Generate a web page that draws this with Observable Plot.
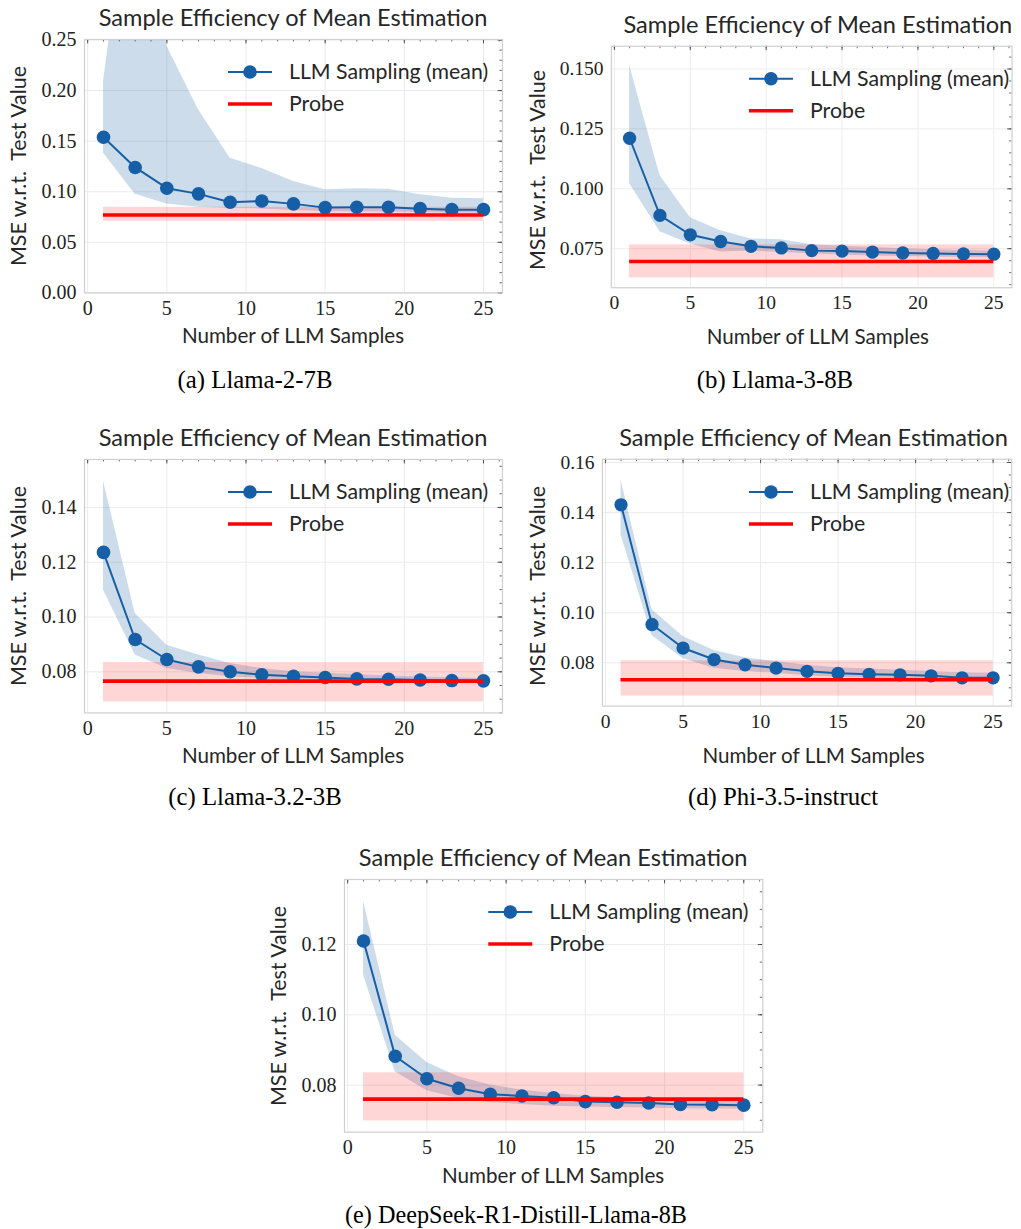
<!DOCTYPE html>
<html><head><meta charset="utf-8">
<script src="https://cdn.jsdelivr.net/npm/d3@7"></script>
<script src="https://cdn.jsdelivr.net/npm/@observablehq/plot@0.6"></script>
<style>
html,body{margin:0;padding:0;background:#fff;overflow:hidden;}
#root{position:relative;width:1021px;height:1229px;overflow:hidden;background:#fff;}
.t{position:absolute;white-space:pre;color:#262626;line-height:1;}
.c{transform:translate(-50%,-50%);}
.l{transform:translate(0,-50%);}
.r{transform:translate(-50%,-50%) rotate(-90deg);}
.sans{font-family:Lato,"Open Sans",sans-serif;}
.serif{font-family:"Liberation Serif","Times New Roman",serif;color:#000;}
.plotbox{position:absolute;}
.plotbox svg{overflow:visible;}
.plotbox svg text{font-family:"Liberation Serif","Times New Roman",serif !important;font-size:20px !important;fill:#222;}
</style></head><body><div id="root"></div>
<script>
// ---------------- data ----------------
const samples = [1, 3, 5, 7, 9, 11, 13, 15, 17, 19, 21, 23, 25];
const xTicks = [0, 5, 10, 15, 20, 25];

const titleText = "Sample Efficiency of Mean Estimation";
const xLabelText = "Number of LLM Samples";
const yLabelText = "MSE w.r.t.  Test Value";
const legendMean = "LLM Sampling (mean)";
const legendProbe = "Probe";

// (a) Llama-2-7B
const meanA  = [0.1538, 0.1240, 0.1035, 0.0979, 0.0896, 0.0909, 0.0880, 0.0843, 0.0847, 0.0847, 0.0833, 0.0823, 0.0823];
const upperA = [0.2093, 0.4400, 0.2440, 0.1810, 0.1330, 0.1230, 0.1100, 0.1020, 0.1030, 0.1025, 0.0970, 0.0936, 0.0930];
const lowerA = [0.1380, 0.0976, 0.0880, 0.0847, 0.0835, 0.0830, 0.0815, 0.0805, 0.0800, 0.0800, 0.0795, 0.0790, 0.0790];
const probeA = [0.0770, 0.0708, 0.0846]; // value, low, high
const yTicksA = [0.00, 0.05, 0.10, 0.15, 0.20, 0.25];

// (b) Llama-3-8B
const meanB  = [0.1211, 0.0889, 0.0808, 0.0780, 0.0760, 0.0753, 0.0742, 0.0740, 0.0736, 0.0732, 0.0730, 0.0728, 0.0727];
const upperB = [0.1515, 0.1056, 0.0879, 0.0825, 0.0791, 0.0787, 0.0766, 0.0760, 0.0755, 0.0750, 0.0746, 0.0742, 0.0740];
const lowerB = [0.1022, 0.0821, 0.0770, 0.0736, 0.0739, 0.0735, 0.0728, 0.0724, 0.0720, 0.0717, 0.0715, 0.0713, 0.0712];
const probeB = [0.0697, 0.0628, 0.0766];
const yTicksB = [0.075, 0.100, 0.125, 0.150];

// (c) Llama-3.2-3B
const meanC  = [0.1236, 0.0918, 0.0845, 0.0818, 0.0800, 0.0789, 0.0784, 0.0779, 0.0774, 0.0773, 0.0770, 0.0768, 0.0767];
const upperC = [0.1496, 0.1013, 0.0897, 0.0861, 0.0830, 0.0812, 0.0800, 0.0795, 0.0790, 0.0785, 0.0781, 0.0778, 0.0776];
const lowerC = [0.1098, 0.0861, 0.0812, 0.0794, 0.0782, 0.0775, 0.0770, 0.0765, 0.0762, 0.0760, 0.0758, 0.0757, 0.0756];
const probeC = [0.0766, 0.0690, 0.0834];
const yTicksC = [0.08, 0.10, 0.12, 0.14];

// (d) Phi-3.5-instruct
const meanD  = [0.1431, 0.0953, 0.0859, 0.0813, 0.0792, 0.0779, 0.0766, 0.0758, 0.0754, 0.0752, 0.0748, 0.0740, 0.0740];
const upperD = [0.1530, 0.1012, 0.0905, 0.0849, 0.0820, 0.0804, 0.0790, 0.0780, 0.0775, 0.0770, 0.0765, 0.0760, 0.0758];
const lowerD = [0.1311, 0.0908, 0.0817, 0.0778, 0.0765, 0.0758, 0.0748, 0.0742, 0.0738, 0.0735, 0.0732, 0.0725, 0.0724];
const probeD = [0.0732, 0.0667, 0.0808];
const yTicksD = [0.08, 0.10, 0.12, 0.14, 0.16];

// (e) DeepSeek-R1-Distill-Llama-8B
const meanE  = [0.1210, 0.0882, 0.0818, 0.0791, 0.0774, 0.0769, 0.0764, 0.0753, 0.0751, 0.0749, 0.0745, 0.0744, 0.0743];
const upperE = [0.1323, 0.0942, 0.0864, 0.0824, 0.0800, 0.0786, 0.0776, 0.0768, 0.0764, 0.0760, 0.0757, 0.0755, 0.0754];
const lowerE = [0.1113, 0.0838, 0.0784, 0.0762, 0.0750, 0.0745, 0.0740, 0.0738, 0.0736, 0.0735, 0.0733, 0.0732, 0.0732];
const probeE = [0.0760, 0.0698, 0.0835];
const yTicksE = [0.08, 0.10, 0.12];

const captions = ["(a) Llama-2-7B", "(b) Llama-3-8B", "(c) Llama-3.2-3B", "(d) Phi-3.5-instruct", "(e) DeepSeek-R1-Distill-Llama-8B"];

// ---------------- layout / style ----------------
const BLUE = "#165ea6", RED = "#ff0000";
const xDomain = [-0.2, 26.2];

const panels = [
  {mean: meanA, hi: upperA, lo: lowerA, probe: probeA, yticks: yTicksA, fmt: ".2f", minor: 0.01,
   frame: [84, 39.3, 502, 292.7], ydomain: [0, 0.2505], ylabOff: 65, cap: [255, 380]},
  {mean: meanB, hi: upperB, lo: lowerB, probe: probeB, yticks: yTicksB, fmt: ".3f", minor: 0.005,
   frame: [612.7, 46, 1023, 293.3], ydomain: [0.0587, 0.1595], ylabOff: 74.4, cap: [775, 380]},
  {mean: meanC, hi: upperC, lo: lowerC, probe: probeC, yticks: yTicksC, fmt: ".2f", minor: 0.005,
   frame: [84, 459.3, 502, 712.7], ydomain: [0.065, 0.1575], ylabOff: 65, cap: [255, 797]},
  {mean: meanD, hi: upperD, lo: lowerD, probe: probeD, yticks: yTicksD, fmt: ".2f", minor: 0.005,
   frame: [604, 459.3, 1023, 712], ydomain: [0.0627, 0.1613], ylabOff: 66, cap: [783, 797]},
  {mean: meanE, hi: upperE, lo: lowerE, probe: probeE, yticks: yTicksE, fmt: ".2f", minor: 0.005,
   frame: [344, 879.3, 762.3, 1132], ydomain: [0.0666, 0.1385], ylabOff: 65, cap: [516, 1215]}
];

const root = document.getElementById("root");

function addText(txt, cls, x, y, size) {
  const d = document.createElement("div");
  d.className = "t " + cls;
  d.textContent = txt;
  d.style.left = x + "px";
  d.style.top = y + "px";
  d.style.fontSize = size + "px";
  root.appendChild(d);
  return d;
}

panels.forEach((p, idx) => {
  const [fl, ft, fr, fb] = p.frame;
  const mL = 90, mR = 10, mT = 10, mB = 40;
  const fw = fr - fl, fh = fb - ft;
  const rows = samples.map((x, i) => ({x, mean: p.mean[i], lo: p.lo[i], hi: p.hi[i]}));
  const probeRows = [{x1: samples[0], x2: samples[samples.length - 1], y: p.probe[0], lo: p.probe[1], hi: p.probe[2]}];
  const minorX = d3.range(0, 27, 1);
  const y0 = Math.ceil(p.ydomain[0] / p.minor - 1e-9), y1 = Math.floor(p.ydomain[1] / p.minor + 1e-9);
  const minorY = d3.range(y0, y1 + 1).map(k => +(k * p.minor).toFixed(4));

  const chart = Plot.plot({
    width: fw + mL + mR, height: fh + mT + mB,
    marginLeft: mL, marginRight: mR, marginTop: mT, marginBottom: mB,
    style: "font-family: 'Liberation Serif', serif; font-size: 20px; color: #222; background: transparent; overflow: visible;",
    x: {domain: xDomain, ticks: xTicks, tickSize: 0, tickPadding: 8, label: null, tickFormat: d3.format("d")},
    y: {domain: p.ydomain, ticks: p.yticks, tickSize: 0, tickPadding: 8, label: null, tickFormat: d3.format(p.fmt)},
    marks: [
      Plot.ruleX(xTicks, {stroke: "#ebebeb", strokeWidth: 1}),
      Plot.ruleY(p.yticks, {stroke: "#ebebeb", strokeWidth: 1}),
      Plot.areaY(rows, {x: "x", y1: "lo", y2: "hi", fill: BLUE, fillOpacity: 0.22, clip: true}),
      Plot.rect(probeRows, {x1: "x1", x2: "x2", y1: "lo", y2: "hi", fill: RED, fillOpacity: 0.16}),
      Plot.lineY(rows, {x: "x", y: "mean", stroke: BLUE, strokeWidth: 2}),
      Plot.dot(rows, {x: "x", y: "mean", r: 6.8, fill: BLUE, stroke: "none"}),
      Plot.ruleY(probeRows, {x1: "x1", x2: "x2", y: "y", stroke: RED, strokeWidth: 3.6}),
      Plot.tickX(minorX, {x: d => d, insetBottom: fh - 2.5, stroke: "#444", strokeWidth: 0.8}),
      Plot.tickX(xTicks, {x: d => d, insetBottom: fh - 4.5, stroke: "#444", strokeWidth: 0.9}),
      Plot.tickY(minorY, {y: d => d, insetLeft: fw - 2.5, stroke: "#444", strokeWidth: 0.8}),
      Plot.tickY(p.yticks, {y: d => d, insetLeft: fw - 4.5, stroke: "#444", strokeWidth: 0.9}),
      Plot.frame({stroke: "#cfcfcf", strokeWidth: 1.2})
    ]
  });
  chart.setAttribute("font-family", "'Liberation Serif', serif");
  chart.setAttribute("font-size", "20");
  const box = document.createElement("div");
  box.className = "plotbox";
  box.style.left = (fl - mL) + "px";
  box.style.top = (ft - mT) + "px";
  box.appendChild(chart);
  root.appendChild(box);

  const cx = (fl + fr) / 2;
  addText(titleText, "sans c", cx, ft - 21, 23.6);
  addText(xLabelText, "sans c", cx, fb + 42.5, 20.6);
  addText(yLabelText, "sans r", fl - p.ylabOff, (ft + fb) / 2, 21.4);

  // legend
  const sx0 = fr - 274, sx1 = fr - 230, tx = fr - 213;
  const ly1 = ft + 32.7, ly2 = ft + 64.7;
  const sw = document.createElementNS("http://www.w3.org/2000/svg", "svg");
  sw.setAttribute("width", 1021); sw.setAttribute("height", 1229);
  sw.style.position = "absolute"; sw.style.left = "0px"; sw.style.top = "0px"; sw.style.pointerEvents = "none";
  const g = d3.select(sw);
  g.append("line").attr("x1", sx0).attr("x2", sx1).attr("y1", ly1).attr("y2", ly1).attr("stroke", BLUE).attr("stroke-width", 2);
  g.append("circle").attr("cx", (sx0 + sx1) / 2).attr("cy", ly1).attr("r", 6.8).attr("fill", BLUE);
  g.append("line").attr("x1", sx0).attr("x2", sx1).attr("y1", ly2).attr("y2", ly2).attr("stroke", RED).attr("stroke-width", 3.6);
  root.appendChild(sw);
  addText(legendMean, "sans l", tx, ly1, 21.3);
  addText(legendProbe, "sans l", tx, ly2, 21.3);

  addText(captions[idx], "serif c", p.cap[0], p.cap[1], idx === 4 ? 24.2 : 24.8);
});
</script></body></html>
